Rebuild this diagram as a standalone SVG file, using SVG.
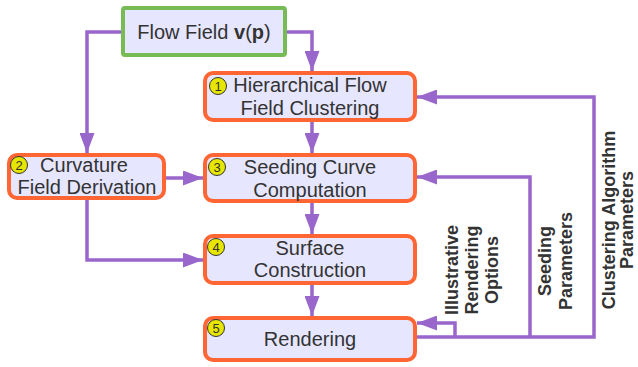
<svg xmlns="http://www.w3.org/2000/svg" width="638" height="367" viewBox="0 0 638 367">
<style>
.box{fill:#e6e6ff;stroke:#ff6633;stroke-width:4}
.src{fill:#e6e6ff;stroke:#77bb55;stroke-width:4}
.t{font-family:"Liberation Sans",Arial,sans-serif;font-size:20px;fill:#333333;text-anchor:middle}
.lbl{font-family:"Liberation Sans",Arial,sans-serif;font-size:18px;font-weight:bold;fill:#333333;text-anchor:middle}
.badge{fill:#e6e600;stroke:#333333;stroke-width:1}
.bt{font-family:"Liberation Sans",Arial,sans-serif;font-size:13px;fill:#333333;text-anchor:middle}
.c{fill:none;stroke:#9966cc;stroke-width:3.5}
</style>
<defs>
<marker id="ah" viewBox="0 0 20 15" refX="20" refY="7.5" markerWidth="20" markerHeight="15" markerUnits="userSpaceOnUse" orient="auto">
<path d="M0,0 L20,7.5 L0,15 Z" fill="#9966cc"/>
</marker>
</defs>
<g id="connectors">
<path class="c" d="M123,32 H87 V153" marker-end="url(#ah)"/>
<path class="c" d="M285,32 H312 V71" marker-end="url(#ah)"/>
<path class="c" d="M312,122 V153" marker-end="url(#ah)"/>
<path class="c" d="M166,178 H203" marker-end="url(#ah)"/>
<path class="c" d="M312,203 V234" marker-end="url(#ah)"/>
<path class="c" d="M87,200 V260 H203" marker-end="url(#ah)"/>
<path class="c" d="M312,285 V316" marker-end="url(#ah)"/>
<path class="c" d="M417,337 H594 V97 H417" marker-end="url(#ah)"/>
<path class="c" d="M530,337 V177 H417" marker-end="url(#ah)"/>
<path class="c" d="M455,337 V323 H417" marker-end="url(#ah)"/>
</g>
<g id="flowfield">
<rect class="src" x="123" y="8" width="162" height="47" rx="2"/>
<text class="t" x="204" y="39">Flow Field <tspan font-weight="bold">v</tspan>(<tspan font-weight="bold">p</tspan>)</text>
</g>
<g id="step1">
<rect class="box" x="205" y="73" width="210" height="47" rx="8"/>
<circle class="badge" cx="218" cy="86" r="8.5"/>
<text class="bt" x="218" y="90.5">1</text>
<text class="t" x="310" y="92">Hierarchical Flow</text>
<text class="t" x="310" y="115">Field Clustering</text>
</g>
<g id="step2">
<rect class="box" x="9" y="155" width="155" height="43" rx="8"/>
<circle class="badge" cx="19" cy="165" r="8.5"/>
<text class="bt" x="19" y="169.5">2</text>
<text class="t" x="84" y="172">Curvature</text>
<text class="t" x="87" y="194">Field Derivation</text>
</g>
<g id="step3">
<rect class="box" x="205" y="155" width="210" height="46" rx="8"/>
<circle class="badge" cx="217" cy="167" r="8.5"/>
<text class="bt" x="217" y="171.5">3</text>
<text class="t" x="310" y="174">Seeding Curve</text>
<text class="t" x="310" y="197">Computation</text>
</g>
<g id="step4">
<rect class="box" x="205" y="236" width="210" height="47" rx="8"/>
<circle class="badge" cx="216" cy="247" r="8.5"/>
<text class="bt" x="216" y="251.5">4</text>
<text class="t" x="310" y="255">Surface</text>
<text class="t" x="310" y="277">Construction</text>
</g>
<g id="step5">
<rect class="box" x="205" y="318" width="210" height="42" rx="8"/>
<circle class="badge" cx="216" cy="328" r="8.5"/>
<text class="bt" x="216" y="332.5">5</text>
<text class="t" x="310" y="346">Rendering</text>
</g>
<g id="labels">
<text class="lbl" transform="translate(458,270) rotate(-90)">Illustrative</text>
<text class="lbl" transform="translate(478,270) rotate(-90)">Rendering</text>
<text class="lbl" transform="translate(498,270) rotate(-90)">Options</text>
<text class="lbl" transform="translate(551,261) rotate(-90)">Seeding</text>
<text class="lbl" transform="translate(572,261) rotate(-90)">Parameters</text>
<text class="lbl" transform="translate(615,220) rotate(-90)">Clustering Algorithm</text>
<text class="lbl" transform="translate(633,220) rotate(-90)">Parameters</text>
</g>
</svg>
